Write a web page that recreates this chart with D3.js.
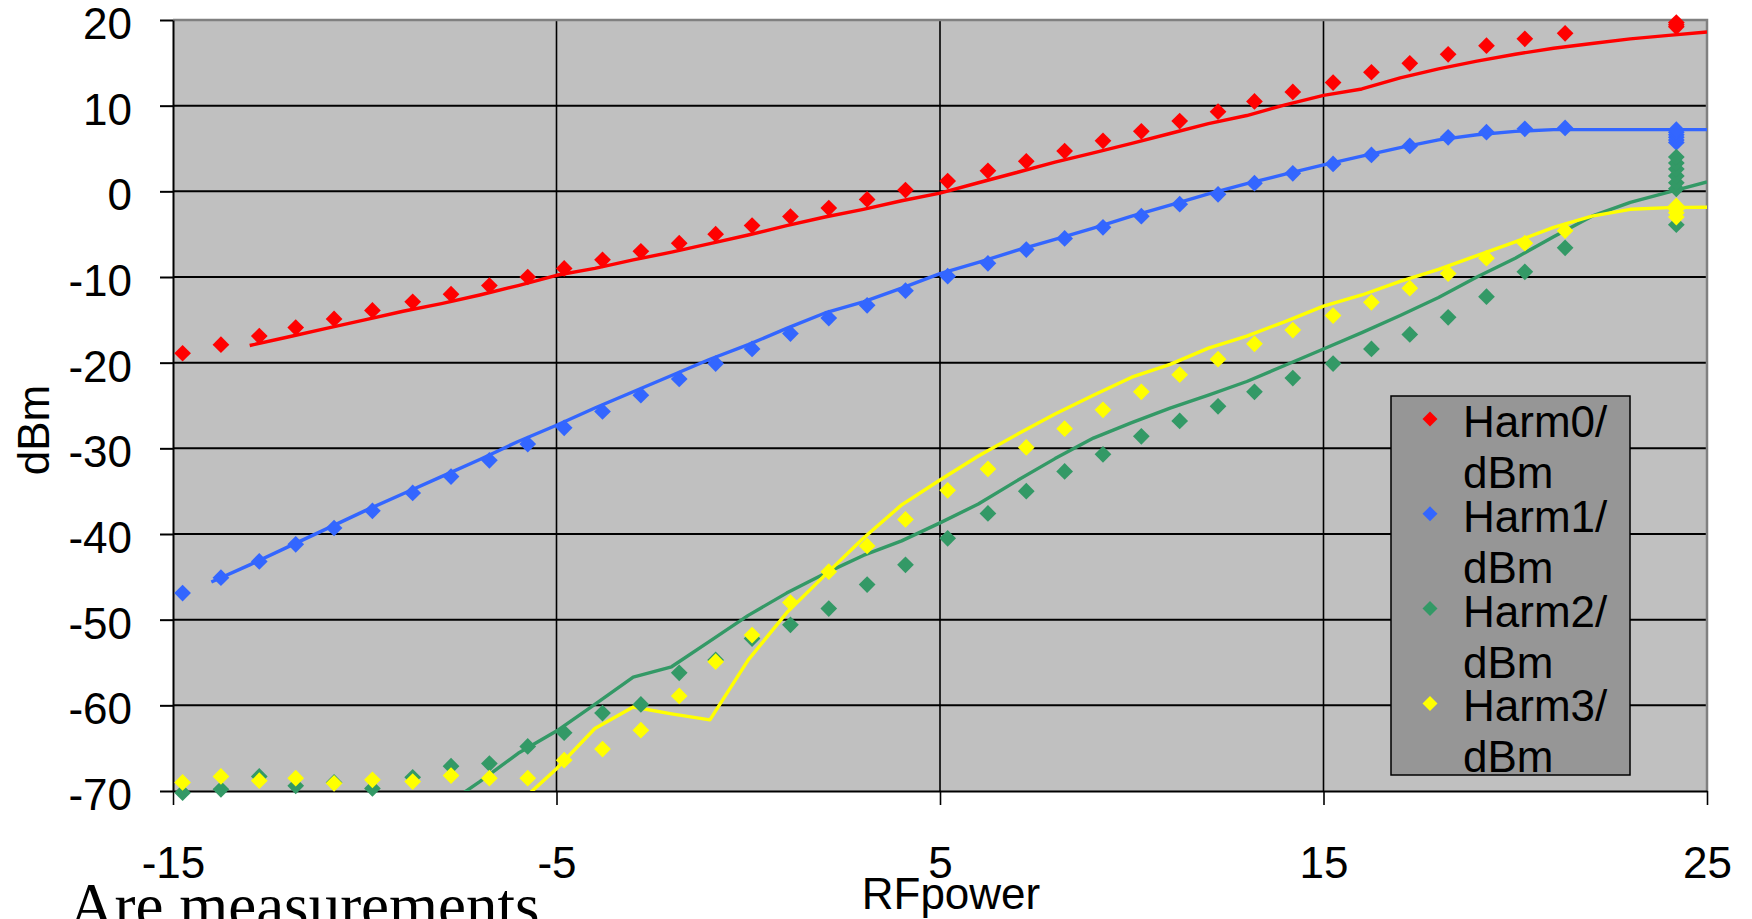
<!DOCTYPE html>
<html>
<head>
<meta charset="utf-8">
<title>Harmonics vs RF power</title>
<script src="https://cdnjs.cloudflare.com/ajax/libs/d3/7.8.5/d3.min.js"></script>
<style>
    body { margin: 0; background: #fff; }
    svg { display: block; }
    text { font-family: "Liberation Sans", Arial, sans-serif; fill: #000; }
    text.caption { font-family: "Liberation Serif", "Times New Roman", serif; }
</style>
</head>
<body>
<svg id="chart"></svg>
<script>
// measured points (diamonds), x = RF power
const measX = [-14.75, -13.75, -12.75, -11.8, -10.8, -9.8, -8.75, -7.75, -6.75, -5.75, -4.8, -3.8, -2.8, -1.8, -0.85, 0.1, 1.1, 2.1, 3.1, 4.1,
               5.2, 6.25, 7.25, 8.25, 9.25, 10.25, 11.25, 12.25, 13.2, 14.2, 15.25, 16.25, 17.25, 18.25, 19.25, 20.25, 21.3];
const harm0Meas = [-18.9, -17.9, -16.9, -15.9, -14.9, -13.9, -12.9, -12.0, -11.0, -10.0, -9.0, -8.0, -7.0, -6.05, -5.0, -4.0, -2.95, -1.95, -0.95, 0.15,
                   1.2, 2.4, 3.5, 4.7, 5.9, 7.0, 8.2, 9.3, 10.5, 11.6, 12.7, 13.9, 14.95, 16.0, 17.0, 17.8, 18.45];
const harm1Meas = [-46.9, -45.1, -43.2, -41.2, -39.3, -37.3, -35.2, -33.3, -31.4, -29.5, -27.6, -25.7, -23.8, -21.9, -20.1, -18.4, -16.6, -14.8, -13.3, -11.6,
                   -9.9, -8.4, -6.8, -5.5, -4.2, -2.9, -1.5, -0.35, 0.95, 2.1, 3.2, 4.25, 5.3, 6.3, 6.9, 7.3, 7.4];
const harm2Meas = [-70.2, -69.8, -68.3, -69.4, -69.0, -69.7, -68.4, -67.1, -66.8, -64.8, -63.2, -60.9, -59.9, -56.2, -54.7, -52.2, -50.6, -48.7, -45.9, -43.6,
                   -40.5, -37.6, -35.0, -32.7, -30.7, -28.6, -26.8, -25.1, -23.4, -21.8, -20.1, -18.4, -16.7, -14.7, -12.3, -9.4, -6.6];
const harm3Meas = [-69.0, -68.3, -68.8, -68.5, -69.1, -68.7, -68.9, -68.2, -68.5, -68.5, -66.4, -65.1, -62.9, -58.9, -54.9, -51.8, -48.0, -44.4, -41.4, -38.3,
                   -34.9, -32.4, -29.9, -27.7, -25.5, -23.4, -21.4, -19.6, -17.8, -16.2, -14.5, -12.95, -11.3, -9.6, -7.8, -6.05, -4.6];

// repeated readings at the top setting
const satX = 24.2;
const harm0Sat = [19.2, 19.45, 19.7];
const harm1Sat = [5.7, 6.0, 6.3, 6.6, 6.9, 7.2];
const harm2Sat = [-3.9, 0.3, 1.0, 1.8, 2.6, 3.3, 4.0];
const harm3Sat = [-3.0, -2.5, -2.1, -1.7];

// simulated curves (solid lines)
const simX = [-15, -14, -13, -12, -11, -10, -9, -8, -7, -6, -5, -4, -3, -2, -1, 0, 1, 2, 3, 4, 5,
              6, 7, 8, 9, 10, 11, 12, 13, 14, 15, 16, 17, 18, 19, 20, 21, 22, 23, 24, 25];
const harm0Sim = [null, null, -18.0, -17.0, -16.0, -15.0, -14.0, -13.1, -12.1, -11.0, -9.8, -9.0, -8.0, -7.1, -6.1, -5.1, -4.0, -3.0, -2.1, -1.1, -0.2,
                  1.0, 2.2, 3.4, 4.5, 5.6, 6.75, 7.9, 8.85, 10.1, 11.2, 11.95, 13.25, 14.3, 15.2, 16.0, 16.7, 17.25, 17.8, 18.2, 18.6];
const harm1Sim = [null, -45.6, -43.6, -41.5, -39.4, -37.3, -35.3, -33.3, -31.3, -29.2, -27.3, -25.3, -23.4, -21.5, -19.6, -17.9, -16.0, -14.2, -12.9, -11.3, -9.6,
                  -8.3, -6.9, -5.6, -4.3, -2.9, -1.6, -0.3, 0.9, 2.0, 3.1, 4.1, 5.1, 6.0, 6.6, 7.0, 7.2, 7.2, 7.2, 7.2, 7.2];
const harm2Sim = [null, null, null, null, null, null, null, -72.0, -68.9, -65.6, -63.0, -59.9, -56.7, -55.5, -52.5, -49.5, -46.9, -44.6, -42.5, -40.8, -38.7,
                  -36.5, -33.8, -31.2, -28.8, -27.0, -25.3, -23.8, -22.2, -20.3, -18.4, -16.5, -14.5, -12.4, -10.0, -7.8, -5.3, -2.9, -1.3, -0.1, 1.1];
const harm3Sim = [null, null, null, null, null, null, null, null, null, -71.5, -67.4, -62.7, -60.2, -61.0, -61.7, -54.7, -49.2, -44.8, -40.5, -36.6, -33.7,
                  -30.9, -28.4, -26.0, -23.8, -21.7, -20.2, -18.3, -16.9, -15.2, -13.4, -12.1, -10.5, -9.1, -7.5, -5.9, -4.2, -2.9, -2.1, -1.9, -1.85];

const seriesNames = ['Harm0/ dBm', 'Harm1/ dBm', 'Harm2/ dBm', 'Harm3/ dBm'];
const seriesColors = ['#ff0000', '#3366ff', '#339966', '#ffff00'];
const xTicks = [-15, -5, 5, 15, 25];
const yTicks = [20, 10, 0, -10, -20, -30, -40, -50, -60, -70];

const width = 1752, height = 919;
const m = { left: 173, top: 20, right: 1707, bottom: 791 };

const svg = d3.select('#chart').attr('width', width).attr('height', height);

const x = d3.scaleLinear().domain([-15, 25]).range([m.left, m.right]);
const y = d3.scaleLinear().domain([-70, 20]).range([m.bottom, m.top]);

svg.append('defs').append('clipPath').attr('id', 'plotClip')
    .append('rect')
    .attr('x', m.left).attr('y', m.top)
    .attr('width', m.right - m.left).attr('height', m.bottom - m.top);

// plot area
svg.append('rect')
    .attr('x', m.left).attr('y', m.top)
    .attr('width', m.right - m.left).attr('height', m.bottom - m.top)
    .attr('fill', '#c0c0c0');

// grid lines
svg.append('g').selectAll('line')
    .data(yTicks.filter(v => v > -70 && v < 20))
    .join('line')
    .attr('x1', m.left).attr('x2', m.right)
    .attr('y1', d => y(d)).attr('y2', d => y(d))
    .attr('stroke', '#000').attr('stroke-width', 2);

svg.append('g').selectAll('line')
    .data(xTicks.filter(v => v > -15 && v < 25))
    .join('line')
    .attr('x1', d => x(d)).attr('x2', d => x(d))
    .attr('y1', m.top).attr('y2', m.bottom)
    .attr('stroke', '#000').attr('stroke-width', 1.6);

// plot border top / right
svg.append('path')
    .attr('d', `M${m.left},${m.top}H${m.right}V${m.bottom}`)
    .attr('fill', 'none').attr('stroke', '#808080').attr('stroke-width', 2.5);

// axes (plain hyphen minus like the original)
const fmt = d => String(d);

const yAxis = d3.axisLeft(y).tickValues(yTicks).tickFormat(fmt).tickSize(13).tickSizeOuter(0).tickPadding(28);
const yg = svg.append('g').attr('transform', `translate(${m.left},0)`).call(yAxis);
yg.select('.domain').attr('stroke', '#000').attr('stroke-width', 2);
yg.selectAll('.tick line').attr('stroke', '#000').attr('stroke-width', 2);
yg.selectAll('.tick text')
    .attr('font-size', 44).attr('dy', '0.42em')
    .attr('fill', '#000');

const xAxis = d3.axisBottom(x).tickValues(xTicks).tickFormat(fmt).tickSize(14).tickSizeOuter(0).tickPadding(0);
const xg = svg.append('g').attr('transform', `translate(0,${m.bottom})`).call(xAxis);
xg.select('.domain').attr('stroke', '#000').attr('stroke-width', 2);
xg.selectAll('.tick line').attr('stroke', '#000').attr('stroke-width', 1.6);
xg.selectAll('.tick text')
    .attr('font-size', 44).attr('y', 87).attr('dy', 0)
    .attr('fill', '#000');

// simulated lines
const simSeries = [harm0Sim, harm1Sim, harm2Sim, harm3Sim];
const line = d3.line()
    .defined(d => d[1] != null)
    .x(d => x(d[0])).y(d => y(d[1]));

const lineG = svg.append('g').attr('clip-path', 'url(#plotClip)');
simSeries.forEach((vals, i) => {
    lineG.append('path')
        .datum(simX.map((v, j) => [v, vals[j]]))
        .attr('d', line)
        .attr('fill', 'none')
        .attr('stroke', seriesColors[i])
        .attr('stroke-width', 3.4)
        .attr('stroke-linejoin', 'round');
});

// measured markers
const measSeries = [harm0Meas, harm1Meas, harm2Meas, harm3Meas];
const satSeries = [harm0Sat, harm1Sat, harm2Sat, harm3Sat];
const diamond = d3.symbol().type(d3.symbolSquare).size(140);

measSeries.forEach((vals, i) => {
    const pts = measX.map((v, j) => [v, vals[j]])
        .concat(satSeries[i].map(v => [satX, v]));
    svg.append('g').selectAll('path')
        .data(pts)
        .join('path')
        .attr('d', diamond)
        .attr('transform', d => `translate(${x(d[0])},${y(d[1])}) rotate(45)`)
        .attr('fill', seriesColors[i]);
});

// axis titles
svg.append('text')
    .attr('transform', 'translate(49,430) rotate(-90)')
    .attr('text-anchor', 'middle')
    .attr('font-size', 44)
    .text('dBm');

svg.append('text')
    .attr('x', 951).attr('y', 909)
    .attr('text-anchor', 'middle')
    .attr('font-size', 44)
    .text('RFpower');

// legend
const lg = svg.append('g');
const lgBox = { x: 1391, y: 396, w: 239, h: 379 };
lg.append('clipPath').attr('id', 'lgClip')
    .append('rect').attr('x', lgBox.x).attr('y', lgBox.y).attr('width', lgBox.w).attr('height', lgBox.h);
lg.append('rect')
    .attr('x', lgBox.x).attr('y', lgBox.y).attr('width', lgBox.w).attr('height', lgBox.h)
    .attr('fill', '#969696').attr('stroke', '#000').attr('stroke-width', 1.5);

const lgItems = lg.append('g').attr('clip-path', 'url(#lgClip)')
    .selectAll('g')
    .data(seriesNames)
    .join('g')
    .attr('transform', (d, i) => `translate(${lgBox.x}, ${419 + i * 94.8})`);

lgItems.append('path')
    .attr('d', d3.symbol().type(d3.symbolSquare).size(112))
    .attr('transform', 'translate(39,0) rotate(45)')
    .attr('fill', (d, i) => seriesColors[i]);

const lgText = lgItems.append('text')
    .attr('x', 72).attr('y', 18)
    .attr('font-size', 44);
lgText.append('tspan').attr('x', 72).text(d => d.split(' ')[0]);
lgText.append('tspan').attr('x', 72).attr('dy', 51).text(d => d.split(' ')[1]);

// caption below the chart (cut off at the bottom edge)
svg.append('text')
    .attr('class', 'caption')
    .attr('x', 69).attr('y', 927)
    .attr('font-size', 63)
    .text('Are measurements');
</script>
</body>
</html>
